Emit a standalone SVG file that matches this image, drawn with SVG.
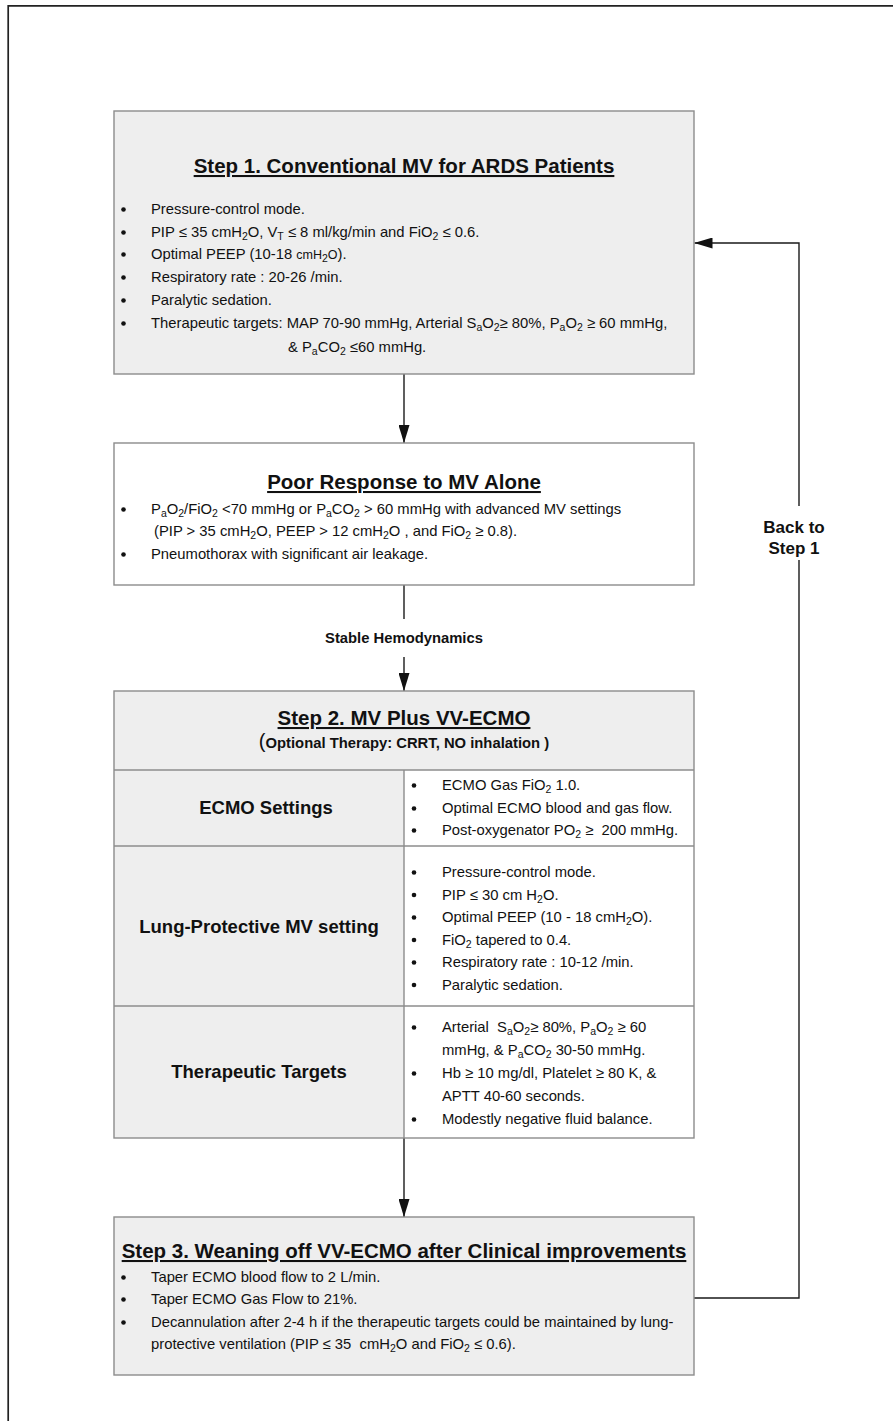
<svg xmlns="http://www.w3.org/2000/svg" width="893" height="1421" viewBox="0 0 893 1421">
<style>
text{font-family:"Liberation Sans",Arial,sans-serif;fill:#111}
.t{font-size:20.5px;font-weight:bold;text-anchor:middle;text-decoration:underline}
.b{font-size:14.8px}
.lb{font-size:18.5px;font-weight:bold;text-anchor:middle}
.s{font-size:14.8px;font-weight:bold;text-anchor:middle}
.bk{font-size:17px;font-weight:bold;text-anchor:middle}
.sub{font-size:10.5px;baseline-shift:-3px}
.sm{font-size:12.5px}
.box{stroke:#8c8c8c;stroke-width:1.4}
.g{fill:#eeeeee}
.w{fill:#ffffff}
.dv{stroke:#8c8c8c;stroke-width:1.4;fill:none}
.c{stroke:#1a1a1a;stroke-width:1.4;fill:none}
.dot{fill:#111}
</style>
<defs>
<marker id="ah" markerUnits="userSpaceOnUse" markerWidth="18" markerHeight="11" refX="18" refY="5.5" orient="auto">
<path d="M0,0 L18,5.5 L0,11 z" fill="#111"/>
</marker>
</defs>
<rect x="0" y="0" width="893" height="1421" fill="#ffffff"/>
<path d="M8.2,1421 V5.8 H893" fill="none" stroke="#222" stroke-width="1.7"/>

<g id="connectors">
<line class="c" x1="404" y1="374" x2="404" y2="443" marker-end="url(#ah)"/>
<line class="c" x1="404" y1="585" x2="404" y2="619"/>
<text class="s" x="404" y="643">Stable Hemodynamics</text>
<line class="c" x1="404" y1="657" x2="404" y2="691" marker-end="url(#ah)"/>
<line class="c" x1="404" y1="1138" x2="404" y2="1217" marker-end="url(#ah)"/>
<path class="c" d="M694,1298 H799 V560"/>
<path class="c" d="M799,506 V243 H694.5" marker-end="url(#ah)"/>
<text class="bk" x="794" y="533">Back to</text>
<text class="bk" x="794" y="554">Step 1</text>
</g>

<g id="step1">
<rect class="box g" x="114" y="111" width="580" height="263"/>
<text class="t" x="404" y="173">Step 1. Conventional MV for ARDS Patients</text>
<circle class="dot" cx="123.5" cy="209.5" r="2.3"/>
<circle class="dot" cx="123.5" cy="232.5" r="2.3"/>
<circle class="dot" cx="123.5" cy="254.5" r="2.3"/>
<circle class="dot" cx="123.5" cy="277.5" r="2.3"/>
<circle class="dot" cx="123.5" cy="300.5" r="2.3"/>
<circle class="dot" cx="123.5" cy="323.5" r="2.3"/>
<text class="b" x="151" y="214">Pressure-control mode.</text>
<text class="b" x="151" y="237">PIP ≤ 35 cmH<tspan class="sub">2</tspan>O, V<tspan class="sub">T</tspan> ≤ 8 ml/kg/min and FiO<tspan class="sub">2</tspan> ≤ 0.6.</text>
<text class="b" x="151" y="259">Optimal PEEP (10-18 <tspan class="sm">cmH</tspan><tspan class="sub">2</tspan><tspan class="sm">O</tspan>).</text>
<text class="b" x="151" y="282">Respiratory rate : 20-26 /min.</text>
<text class="b" x="151" y="305">Paralytic sedation.</text>
<text class="b" x="151" y="328">Therapeutic targets: MAP 70-90 mmHg, Arterial S<tspan class="sub">a</tspan>O<tspan class="sub">2</tspan>≥ 80%, P<tspan class="sub">a</tspan>O<tspan class="sub">2</tspan> ≥ 60 mmHg,</text>
<text class="b" x="288" y="352">&amp; P<tspan class="sub">a</tspan>CO<tspan class="sub">2</tspan> ≤60 mmHg.</text>
</g>

<g id="poor-response">
<rect class="box w" x="114" y="443" width="580" height="142"/>
<text class="t" x="404" y="489">Poor Response to MV Alone</text>
<circle class="dot" cx="123.5" cy="509.5" r="2.3"/>
<circle class="dot" cx="123.5" cy="554.5" r="2.3"/>
<text class="b" x="151" y="514">P<tspan class="sub">a</tspan>O<tspan class="sub">2</tspan>/FiO<tspan class="sub">2</tspan> &lt;70 mmHg or P<tspan class="sub">a</tspan>CO<tspan class="sub">2</tspan> &gt; 60 mmHg with advanced MV settings</text>
<text class="b" x="154" y="536">(PIP &gt; 35 cmH<tspan class="sub">2</tspan>O, PEEP &gt; 12 cmH<tspan class="sub">2</tspan>O , and FiO<tspan class="sub">2</tspan> ≥ 0.8).</text>
<text class="b" x="151" y="559">Pneumothorax with significant air leakage.</text>
</g>

<g id="step2">
<rect class="g" x="114" y="691" width="580" height="79"/>
<rect class="g" x="114" y="770" width="290" height="368"/>
<rect class="w" x="404" y="770" width="290" height="368"/>
<rect class="box" x="114" y="691" width="580" height="447" fill="none"/>
<line class="dv" x1="114" y1="770" x2="694" y2="770"/>
<line class="dv" x1="114" y1="846" x2="694" y2="846"/>
<line class="dv" x1="114" y1="1006" x2="694" y2="1006"/>
<line class="dv" x1="404" y1="770" x2="404" y2="1138"/>
<text class="t" x="404" y="725">Step 2. MV Plus VV-ECMO</text>
<text class="s" x="404" y="748"><tspan style="font-size:20px;font-weight:normal">(</tspan>Optional Therapy: CRRT, NO inhalation )</text>
</g>

<g id="ecmo-settings">
<text class="lb" x="266" y="814">ECMO Settings</text>
<circle class="dot" cx="414" cy="785.5" r="2.3"/>
<circle class="dot" cx="414" cy="808.5" r="2.3"/>
<circle class="dot" cx="414" cy="830.5" r="2.3"/>
<text class="b" x="442" y="790">ECMO Gas FiO<tspan class="sub">2</tspan> 1.0.</text>
<text class="b" x="442" y="813">Optimal ECMO blood and gas flow.</text>
<text class="b" x="442" y="835">Post-oxygenator PO<tspan class="sub">2</tspan> ≥&#160; 200 mmHg.</text>
</g>

<g id="lung-protective">
<text class="lb" x="259" y="933">Lung-Protective MV setting</text>
<circle class="dot" cx="414" cy="872.5" r="2.3"/>
<circle class="dot" cx="414" cy="895" r="2.3"/>
<circle class="dot" cx="414" cy="917.5" r="2.3"/>
<circle class="dot" cx="414" cy="940" r="2.3"/>
<circle class="dot" cx="414" cy="962.5" r="2.3"/>
<circle class="dot" cx="414" cy="985" r="2.3"/>
<text class="b" x="442" y="877">Pressure-control mode.</text>
<text class="b" x="442" y="899.5">PIP ≤ 30 cm H<tspan class="sub">2</tspan>O.</text>
<text class="b" x="442" y="922">Optimal PEEP (10 - 18 cmH<tspan class="sub">2</tspan>O).</text>
<text class="b" x="442" y="944.5">FiO<tspan class="sub">2</tspan> tapered to 0.4.</text>
<text class="b" x="442" y="967">Respiratory rate : 10-12 /min.</text>
<text class="b" x="442" y="989.5">Paralytic sedation.</text>
</g>

<g id="therapeutic-targets">
<text class="lb" x="259" y="1078">Therapeutic Targets</text>
<circle class="dot" cx="414" cy="1027.5" r="2.3"/>
<circle class="dot" cx="414" cy="1073.5" r="2.3"/>
<circle class="dot" cx="414" cy="1119.5" r="2.3"/>
<text class="b" x="442" y="1032">Arterial&#160; S<tspan class="sub">a</tspan>O<tspan class="sub">2</tspan>≥ 80%, P<tspan class="sub">a</tspan>O<tspan class="sub">2</tspan> ≥ 60</text>
<text class="b" x="442" y="1055">mmHg, &amp; P<tspan class="sub">a</tspan>CO<tspan class="sub">2</tspan> 30-50 mmHg.</text>
<text class="b" x="442" y="1078">Hb ≥ 10 mg/dl, Platelet ≥ 80 K, &amp;</text>
<text class="b" x="442" y="1101">APTT 40-60 seconds.</text>
<text class="b" x="442" y="1124">Modestly negative fluid balance.</text>
</g>

<g id="step3">
<rect class="box g" x="114" y="1217" width="580" height="158"/>
<text class="t" x="404" y="1258">Step 3. Weaning off VV-ECMO after Clinical improvements</text>
<circle class="dot" cx="123.5" cy="1277.5" r="2.3"/>
<circle class="dot" cx="123.5" cy="1299.5" r="2.3"/>
<circle class="dot" cx="123.5" cy="1322.5" r="2.3"/>
<text class="b" x="151" y="1282">Taper ECMO blood flow to 2 L/min.</text>
<text class="b" x="151" y="1304">Taper ECMO Gas Flow to 21%.</text>
<text class="b" x="151" y="1327">Decannulation after 2-4 h if the therapeutic targets could be maintained by lung-</text>
<text class="b" x="151" y="1349">protective ventilation (PIP ≤ 35&#160; cmH<tspan class="sub">2</tspan>O and FiO<tspan class="sub">2</tspan> ≤ 0.6).</text>
</g>
</svg>
